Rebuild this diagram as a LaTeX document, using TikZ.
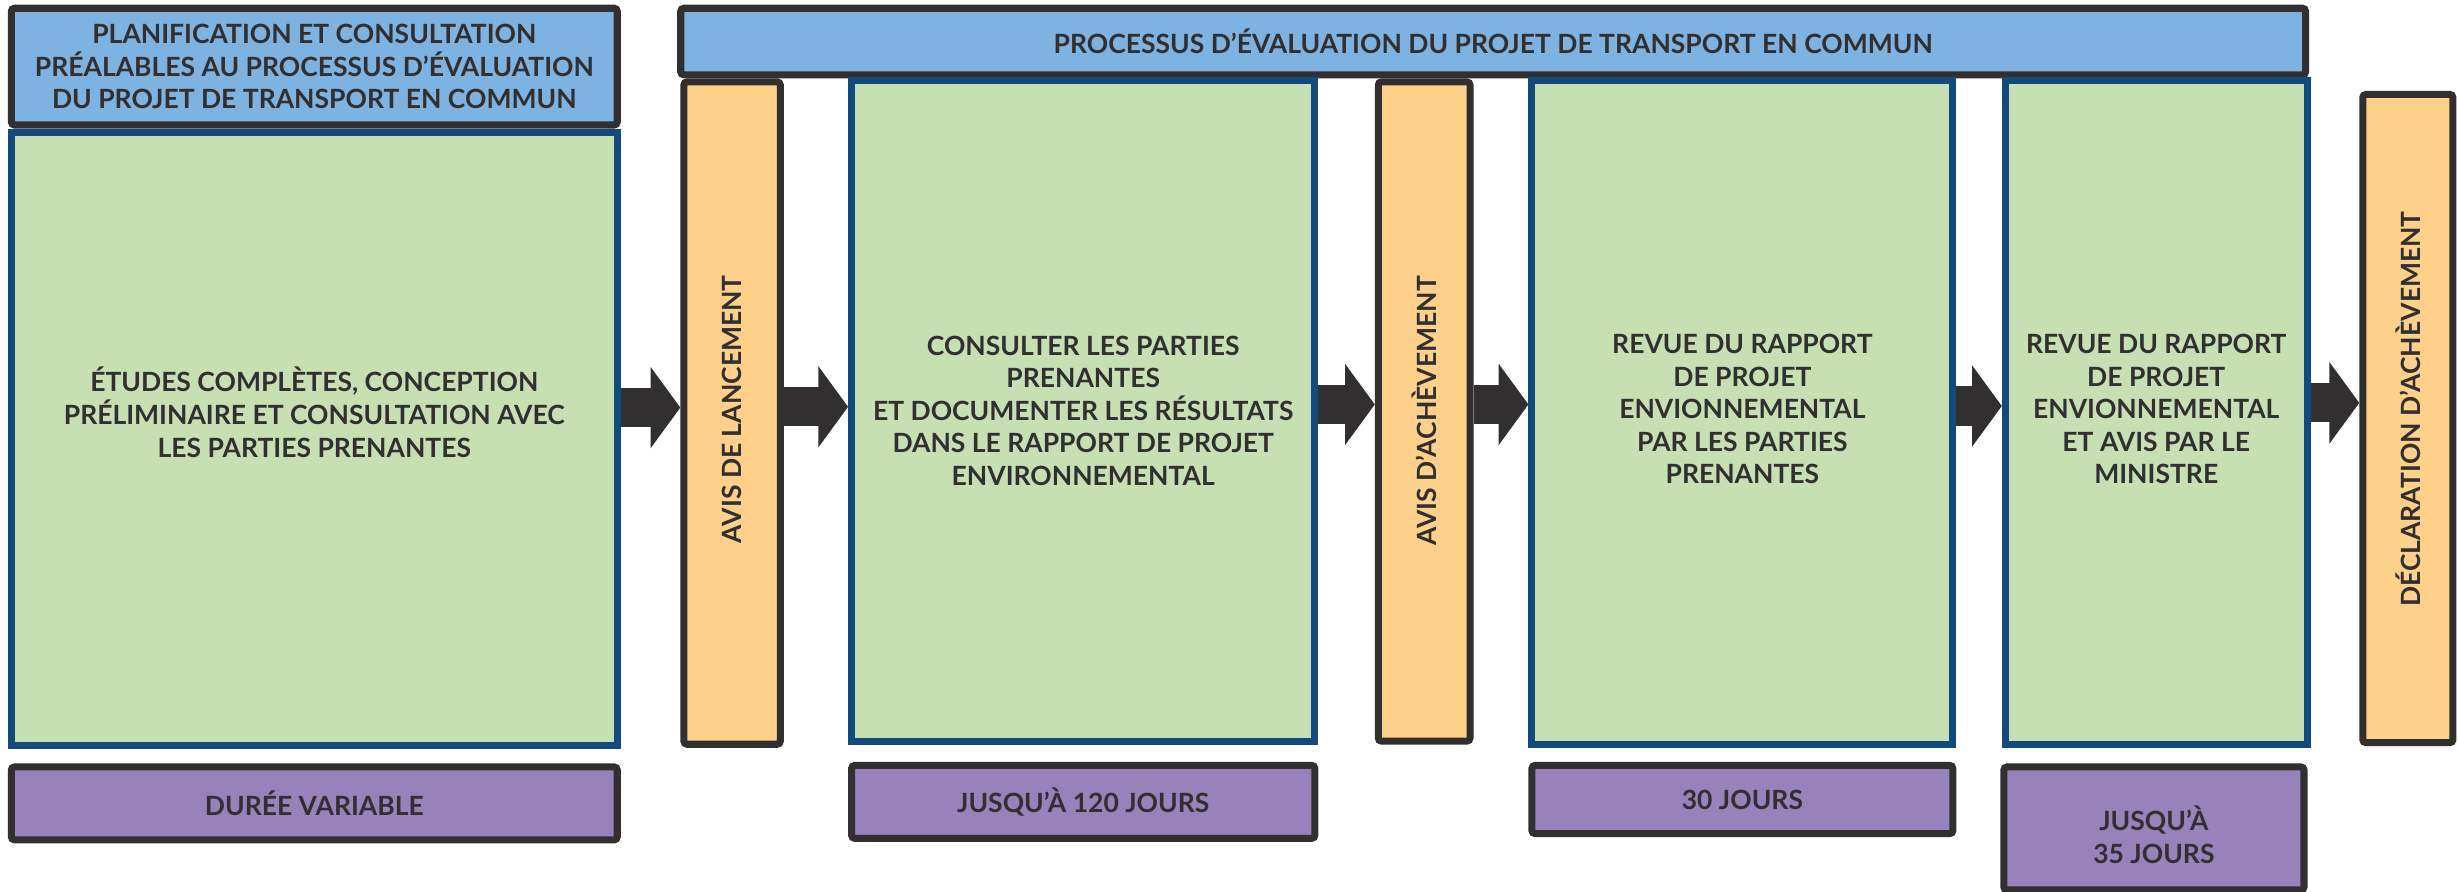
\documentclass[tikz,border=0pt]{standalone}
\usepackage{fontspec}
\setmainfont{Lato}
\usetikzlibrary{arrows.meta}
\definecolor{hdrblue}{HTML}{7EB2E0}
\definecolor{edge}{HTML}{312F30}
\definecolor{navy}{HTML}{124A7E}
\definecolor{leaf}{HTML}{C6E0B4}
\definecolor{sand}{HTML}{FED08A}
\definecolor{lilac}{HTML}{9782BB}
\definecolor{ink}{HTML}{312F30}
\begin{document}
\begin{tikzpicture}[x=1pt,y=-1pt,
 lbl/.style={font=\fontsize{16.9}{20.8}\selectfont\bfseries, text=ink, align=center, inner sep=0pt},
 hdr/.style={lbl, draw=edge, fill=hdrblue, line width=4.5pt, rounded corners=2pt},
 stage/.style={lbl, draw=navy, fill=leaf, line width=4.5pt},
 notice/.style={draw=edge, fill=sand, line width=4.5pt, rounded corners=2pt},
 dur/.style={lbl, draw=edge, fill=lilac, line width=4.5pt, rounded corners=2pt},
 barrow/.style={draw=edge, line width=25pt, -{Triangle[length=19pt,width=51pt]}}
]
\useasboundingbox (0,0) rectangle (1568,568.4);
\clip (0,0) rectangle (1568,568.4);

% left column
\node[hdr, minimum width=386.5pt, minimum height=74.5pt] (h1) at (200.5,42.5)
  {PLANIFICATION ET CONSULTATION\\PRÉALABLES AU PROCESSUS D’ÉVALUATION\\DU PROJET DE TRANSPORT EN COMMUN};
\node[stage, minimum width=386.5pt, minimum height=391.5pt] (g1) at (200.5,280) {};
\node[lbl] at (200.5,263) {ÉTUDES COMPLÈTES, CONCEPTION\\PRÉLIMINAIRE ET CONSULTATION AVEC\\LES PARTIES PRENANTES};
\node[dur, minimum width=386.5pt, minimum height=46.5pt] (p1) at (200.5,512.5) {DURÉE VARIABLE};

% top header
\node[hdr, minimum width=1036.5pt, minimum height=42.5pt] (h2) at (952.5,26.5)
  {PROCESSUS D’ÉVALUATION DU PROJET DE TRANSPORT EN COMMUN};

% notices
\node[notice, minimum width=61.5pt, minimum height=422.5pt] (o1) at (467,263.5) {};
\node[lbl, rotate=90] at (467,261) {AVIS DE LANCEMENT};

\node[stage, minimum width=295.5pt, minimum height=421.5pt] (g2) at (691,262)
  {CONSULTER LES PARTIES\\PRENANTES\\ET DOCUMENTER LES RÉSULTATS\\DANS LE RAPPORT DE PROJET\\ENVIRONNEMENTAL};
\node[dur, minimum width=295.5pt, minimum height=46.5pt] (p2) at (691,511.5) {JUSQU’À 120 JOURS};

\node[notice, minimum width=58.5pt, minimum height=420.5pt] (o2) at (908.5,262.5) {};
\node[lbl, rotate=90] at (908.5,262) {AVIS D’ACHÈVEMENT};

\node[stage, minimum width=268.5pt, minimum height=423.5pt] (g3) at (1111.5,263) {};
\node[lbl] at (1111.5,261) {REVUE DU RAPPORT\\DE PROJET\\ENVIONNEMENTAL\\PAR LES PARTIES\\PRENANTES};
\node[dur, minimum width=268.5pt, minimum height=43.5pt] (p3) at (1111.5,510) {30 JOURS};

\node[stage, minimum width=192.5pt, minimum height=423.5pt] (g4) at (1375.5,263) {};
\node[lbl] at (1375.5,261) {REVUE DU RAPPORT\\DE PROJET\\ENVIONNEMENTAL\\ET AVIS PAR LE\\MINISTRE};
\node[dur, minimum width=191.5pt, minimum height=78.5pt] (p4) at (1374,528.5) {};
\node[lbl] at (1374,532.5) {JUSQU’À\\35 JOURS};

\node[notice, minimum width=57.5pt, minimum height=413.5pt] (o3) at (1536,267) {};
\node[lbl, rotate=90] at (1536,261) {DÉCLARATION D’ACHÈVEMENT};

% arrows
\coordinate (y1) at (0,260);
\coordinate (y2) at (0,259.5);
\coordinate (y3) at (0,258);
\coordinate (y5) at (0,259);
\coordinate (y6) at (0,257);
\draw[barrow] (g1.east |- y1) -- (o1.west |- y1);
\draw[barrow] (o1.east |- y2) -- (g2.west |- y2);
\draw[barrow] (g2.east |- y3) -- (o2.west |- y3);
\draw[barrow] (o2.east |- y3) -- (g3.west |- y3);
\draw[barrow] (g3.east |- y5) -- (g4.west |- y5);
\draw[barrow] (g4.east |- y6) -- (o3.west |- y6);
\end{tikzpicture}
\end{document}
